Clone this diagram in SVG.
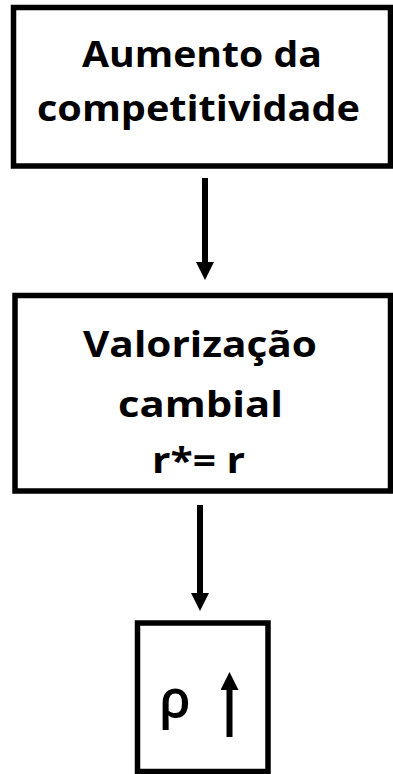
<svg xmlns="http://www.w3.org/2000/svg" width="393" height="774" viewBox="0 0 393 774">
  <style>
    .box { fill: #ffffff; stroke: #000000; stroke-width: 5.5; }
    .lbl { font-family: "Open Sans", Lato, "Liberation Sans", sans-serif; font-weight: 700; font-size: 36px; fill: #000000; text-anchor: middle; }
    .sym { font-family: "Open Sans", "Noto Sans", "DejaVu Sans", sans-serif; font-weight: 600; font-size: 52px; fill: #000000; }
    .conn { stroke: #000000; stroke-width: 6; fill: none; marker-end: url(#head); }
  </style>
  <defs>
    <marker id="head" viewBox="0 0 18 18" refX="1" refY="9" markerWidth="18" markerHeight="18" markerUnits="userSpaceOnUse" orient="auto">
      <path d="M0,0 L18,9 L0,18 z" fill="#000000"/>
    </marker>
  </defs>
  <rect width="393" height="774" fill="#ffffff"/>
  <g id="connectors">
    <line class="conn" x1="205" y1="178" x2="205" y2="263"/>
    <line class="conn" x1="200" y1="505" x2="200" y2="594"/>
  </g>
  <g id="node-aumento">
    <rect class="box" x="13.5" y="7.5" width="377" height="158.5"/>
    <text class="lbl" x="202" y="67" textLength="240" lengthAdjust="spacingAndGlyphs">Aumento da</text>
    <text class="lbl" x="198.5" y="121" textLength="323" lengthAdjust="spacingAndGlyphs">competitividade</text>
  </g>
  <g id="node-valorizacao">
    <rect class="box" x="15" y="295.5" width="375.5" height="195.5"/>
    <text class="lbl" x="200" y="357" textLength="234" lengthAdjust="spacingAndGlyphs">Valorização</text>
    <text class="lbl" x="200.5" y="416.5" textLength="165" lengthAdjust="spacingAndGlyphs">cambial</text>
    <text class="lbl" x="198.5" y="473" textLength="93" lengthAdjust="spacingAndGlyphs">r*= r</text>
  </g>
  <g id="node-rho">
    <rect class="box" x="137.5" y="623" width="130.5" height="148.5"/>
    <text class="sym" x="159" y="717">ρ</text>
    <line class="conn" x1="229.5" y1="737" x2="229.5" y2="689"/>
  </g>
</svg>
